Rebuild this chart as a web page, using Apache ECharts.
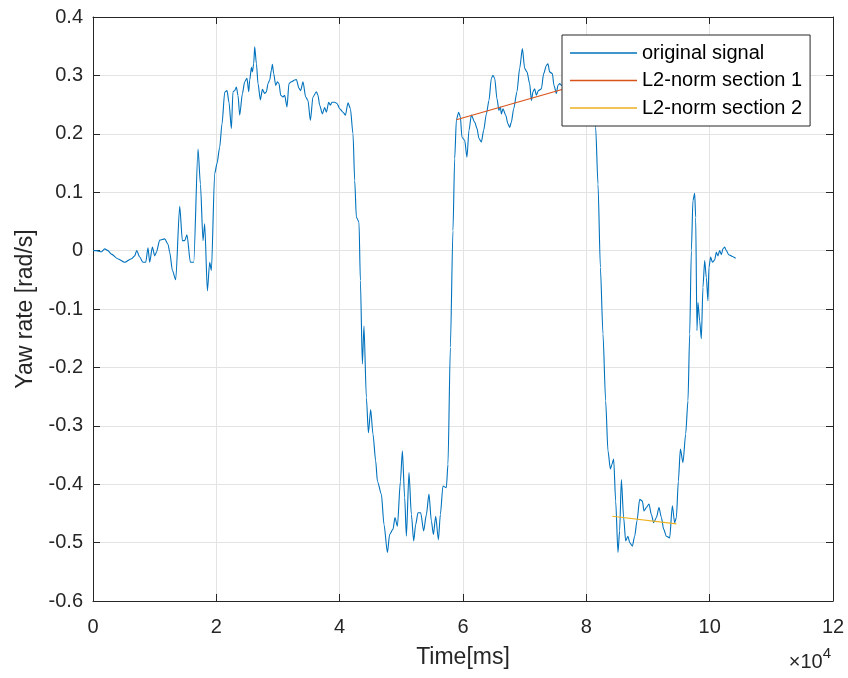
<!DOCTYPE html>
<html>
<head>
<meta charset="utf-8">
<script src="https://cdn.jsdelivr.net/npm/echarts@6/dist/echarts.min.js"></script>
<style>
html,body{margin:0;padding:0;background:#fff;}
#chart{width:848px;height:678px;}
</style>
</head>
<body>
<div id="chart"></div>
<script>
// ---- data (time in ms, yaw rate in rad/s) ----
const signalTime = [0,550,1360,1900,2430,2980,4000,5140,6230,6760,7090,7570,8110,8550,8920,9190,9630,10000,10280,10820,11630,12160,12440,12880,13410,14060,14500,14870,15240,15790,16330,17030,17420,17840,18110,18550,18920,19200,19730,20110,20540,20920,21360,21730,22050,22440,22700,22980,23250,23510,23790,24230,24600,24970,25250,25410,25690,25850,26060,26220,26500,26760,27140,27470,27840,28120,28380,28650,28930,29090,29300,29630,29900,30160,30440,30810,31080,31460,31780,32170,32710,32980,33400,33680,34050,34490,34860,35250,35670,36220,36480,36760,37200,37570,37850,38220,38490,38750,39190,39570,40000,40540,40930,41350,41740,42160,42440,42710,43130,43360,43680,43940,44330,44660,45030,45400,45840,46120,46760,47190,47740,48110,48650,48970,49360,49850,50170,50540,50820,51240,51630,52000,52330,52700,53140,53620,54060,54480,54870,55200,55570,56010,56330,56750,57300,57560,57950,58370,58650,58930,59300,59570,59830,60270,60640,60970,61360,61890,62270,62590,62980,63350,63790,64210,64600,64860,65140,65510,65830,66060,66220,66480,66920,67290,67570,67840,68220,68750,69190,69630,70000,70370,70810,71090,71350,71620,71900,72220,72710,73080,73520,73780,74050,74490,74750,75140,75400,75680,75950,77300,78920,80220,81190,81510,81890,82280,82700,83130,83510,83900,84160,84430,84760,85130,85400,85680,86050,86380,86750,87030,87460,87840,88210,88650,89090,89350,89730,90160,90550,90920,91360,91780,92170,92540,92980,93510,93950,94320,94600,94920,95250,95670,96110,96480,96760,97030,97290,97570,97730,97940,98100,98380,98650,98910,99190,99460,99720,99880,100160,100440,100810,101080,101340,101620,101900,102150,102430,102710,103080,103680,104210];
const signalValue = [0,0,-0.002,0.003,0,-0.006,-0.014,-0.020,-0.014,-0.009,0.000,-0.011,-0.020,-0.020,0.005,-0.020,0.006,-0.009,-0.003,0.018,0.020,0.011,-0.003,-0.034,-0.050,0.076,0.017,0.017,0.027,-0.020,-0.020,0.174,0.114,0.017,0.046,-0.069,-0.020,-0.034,0.132,0.149,0.177,0.217,0.271,0.274,0.254,0.209,0.272,0.274,0.280,0.266,0.232,0.269,0.289,0.295,0.272,0.292,0.314,0.306,0.320,0.349,0.320,0.286,0.258,0.276,0.269,0.272,0.286,0.292,0.309,0.319,0.303,0.283,0.289,0.286,0.266,0.263,0.266,0.246,0.286,0.289,0.292,0.293,0.278,0.274,0.289,0.263,0.257,0.223,0.263,0.272,0.266,0.249,0.234,0.245,0.237,0.254,0.249,0.254,0.254,0.252,0.243,0.237,0.232,0.253,0.243,0.200,0.120,0.057,0.049,-0.051,-0.194,-0.129,-0.252,-0.312,-0.272,-0.314,-0.360,-0.395,-0.417,-0.469,-0.517,-0.486,-0.477,-0.457,-0.472,-0.395,-0.343,-0.423,-0.489,-0.380,-0.452,-0.497,-0.469,-0.449,-0.449,-0.480,-0.452,-0.417,-0.463,-0.486,-0.455,-0.495,-0.452,-0.403,-0.406,-0.366,-0.166,0.034,0.157,0.224,0.237,0.229,0.194,0.189,0.160,0.206,0.232,0.220,0.209,0.192,0.186,0.206,0.234,0.257,0.295,0.300,0.295,0.260,0.240,0.246,0.234,0.243,0.232,0.217,0.211,0.220,0.243,0.272,0.312,0.346,0.312,0.306,0.286,0.257,0.272,0.277,0.266,0.274,0.277,0.303,0.317,0.320,0.306,0.303,0.283,0.269,0.283,0.286,0.283,0.292,0.298,0.281,0.249,0.211,0.114,-0.029,-0.143,-0.257,-0.343,-0.374,-0.366,-0.357,-0.429,-0.517,-0.480,-0.392,-0.457,-0.497,-0.489,-0.500,-0.506,-0.489,-0.463,-0.426,-0.429,-0.446,-0.440,-0.434,-0.452,-0.466,-0.457,-0.440,-0.457,-0.477,-0.489,-0.492,-0.437,-0.466,-0.457,-0.395,-0.340,-0.363,-0.314,-0.257,-0.143,0.000,0.086,0.098,0.057,-0.137,-0.089,-0.120,-0.151,-0.063,-0.017,-0.046,-0.086,-0.029,-0.011,-0.020,-0.016,-0.003,-0.009,0.000,-0.007,0.003,0.006,0.000,-0.007,-0.010,-0.013];
const section1Time = [58930, 81000];
const section1Value = [0.224, 0.291];
const section2Time = [84220, 94600];
const section2Value = [-0.455, -0.468];
const seriesNames = ['original signal', 'L2-norm section 1', 'L2-norm section 2'];
const xTickMultiplier = 10000;

const pairs = (t, v) => t.map((x, i) => [x, v[i]]);

const FONT = '"Liberation Sans", Arial, Helvetica, sans-serif';
const AX = '#262626';
const GRID = '#e3e3e3';

const chart = echarts.init(document.getElementById('chart'), null, {renderer: 'canvas'});

const xBase = {
  type: 'value', min: 0, max: 120000, interval: 20000,
  axisLine: {show: true, onZero: false, lineStyle: {color: AX, width: 1}},
  axisTick: {show: true, inside: true, length: 7, lineStyle: {color: AX, width: 1}},
};
const yBase = {
  type: 'value', min: -0.6, max: 0.4, interval: 0.1,
  axisLine: {show: true, onZero: false, lineStyle: {color: AX, width: 1}},
  axisTick: {show: true, inside: true, length: 7, lineStyle: {color: AX, width: 1}},
};

chart.setOption({
  animation: false,
  backgroundColor: '#fff',
  grid: {left: 93, right: 15, top: 17, bottom: 77, containLabel: false},
  xAxis: [
    Object.assign({}, xBase, {
      position: 'bottom',
      name: 'Time[ms]', nameLocation: 'middle', nameGap: 45,
      nameTextStyle: {fontFamily: FONT, fontSize: 23, color: AX},
      axisLabel: {fontFamily: FONT, fontSize: 20, color: AX, margin: 16,
        formatter: v => String(Math.round(v / xTickMultiplier))},
      splitLine: {show: true, lineStyle: {color: GRID, width: 1}}
    }),
    Object.assign({}, xBase, {
      position: 'top', axisLabel: {show: false}, splitLine: {show: false}
    })
  ],
  yAxis: [
    Object.assign({}, yBase, {
      position: 'left',
      name: 'Yaw rate [rad/s]', nameLocation: 'middle', nameGap: 55,
      nameTextStyle: {fontFamily: FONT, fontSize: 23, color: AX},
      axisLabel: {fontFamily: FONT, fontSize: 20, color: AX, margin: 10,
        formatter: v => (Math.abs(v) < 1e-9 ? '0' : v.toFixed(1))},
      splitLine: {show: true, lineStyle: {color: GRID, width: 1}}
    }),
    Object.assign({}, yBase, {
      position: 'right', axisLabel: {show: false}, splitLine: {show: false}
    })
  ],
  legend: {
    orient: 'vertical',
    left: 562, top: 35,
    padding: [8, 8, 8, 8],
    icon: 'rect',
    itemWidth: 67, itemHeight: 1.5, itemGap: 7.5,
    backgroundColor: '#fff',
    borderColor: AX, borderWidth: 1, borderRadius: 0,
    textStyle: {fontFamily: FONT, fontSize: 20, color: '#000', lineHeight: 20},
    data: seriesNames,
    selectedMode: false
  },
  graphic: [{
    type: 'text', right: 17, top: 646,
    style: {
      text: '{a|×10}{b|4}',
      rich: {
        a: {fontFamily: FONT, fontSize: 20, fill: AX, verticalAlign: 'bottom', lineHeight: 26},
        b: {fontFamily: FONT, fontSize: 15, fill: AX, verticalAlign: 'top', lineHeight: 26, padding: [0, 0, 10, 0]}
      }
    }
  }],
  series: [
    {name: seriesNames[0], type: 'line', data: pairs(signalTime, signalValue),
      showSymbol: false, symbol: 'none', smooth: 0.25, smoothMonotone: 'x',
      lineStyle: {color: '#0072BD', width: 1.1},
      itemStyle: {color: '#0072BD'}, z: 2},
    {name: seriesNames[1], type: 'line', data: pairs(section1Time, section1Value),
      showSymbol: false, symbol: 'none', lineStyle: {color: '#D95319', width: 1.1},
      itemStyle: {color: '#D95319'}, z: 3},
    {name: seriesNames[2], type: 'line', data: pairs(section2Time, section2Value),
      showSymbol: false, symbol: 'none', lineStyle: {color: '#EDB120', width: 1.1},
      itemStyle: {color: '#EDB120'}, z: 3}
  ]
});
</script>
</body>
</html>
